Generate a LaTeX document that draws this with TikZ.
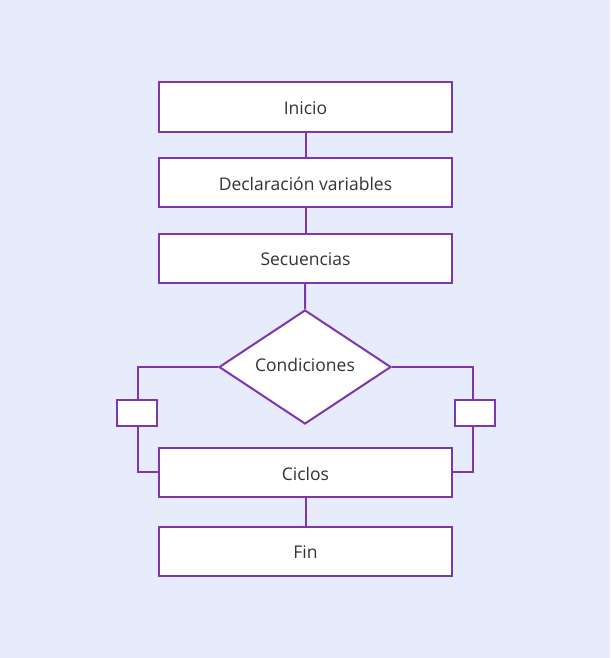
\documentclass[tikz,border=0pt]{standalone}
\usepackage{fontspec}
\setmainfont{Open Sans}
\usetikzlibrary{shapes.geometric}
\definecolor{bg}{HTML}{E7ECFC}
\definecolor{pur}{HTML}{7D36AC}
\definecolor{txt}{HTML}{333333}
\begin{document}
\begin{tikzpicture}[x=1pt,y=-1pt,
  lbl/.style={text=txt,font=\fontsize{17.5}{20}\selectfont},
  box/.style={draw=pur,line width=2pt,fill=white,minimum width=293pt,minimum height=49pt,inner sep=0pt,lbl},
  smallbox/.style={draw=pur,line width=2pt,fill=white,minimum width=40pt,minimum height=26pt,inner sep=0pt},
  dia/.style={draw=pur,line width=2pt,fill=white,diamond,minimum width=172pt,minimum height=114pt,inner sep=0pt},
  conn/.style={draw=pur,line width=2pt}]
\fill[bg] (0,0) rectangle (610,658);
\useasboundingbox (0,0) rectangle (610,658);
\node[box] (ini) at (305.5,107) {};
\node[box] (dec) at (305.5,182) {};
\node[box] (sec) at (305.5,258) {};
\node[dia] (con) at (305,367) {};
\node[box] (cic) at (305.5,472) {};
\node[box] (fin) at (305.5,551) {};
\node[lbl] (inil) at (305.5,108.5) {Inicio};
\node[lbl] (decl) at (305.5,183.5) {Declaración variables};
\node[lbl] (secl) at (305.5,259.5) {Secuencias};
\node[lbl] (conl) at (305,364.5) {Condiciones};
\node[lbl] (cicl) at (305.5,473.5) {Ciclos};
\node[lbl] (finl) at (305.5,552.5) {Fin};
\coordinate (lt) at (138,367);
\coordinate (lb) at (138,472);
\coordinate (rt) at (473,367);
\coordinate (rb) at (473,472);
\draw[conn] (ini) -- (dec);
\draw[conn] (dec) -- (sec);
\draw[conn] (sec) -- (con.north);
\draw[conn] (cic) -- (fin);
\draw[conn] (con.west) -- (lt) -- (lb) -- (cic.west);
\draw[conn] (con.east) -- (rt) -- (rb) -- (cic.east);
\node[smallbox] (sl) at (136.5,412.5) {};
\node[smallbox] (sr) at (474.5,412.5) {};
\end{tikzpicture}
\end{document}
